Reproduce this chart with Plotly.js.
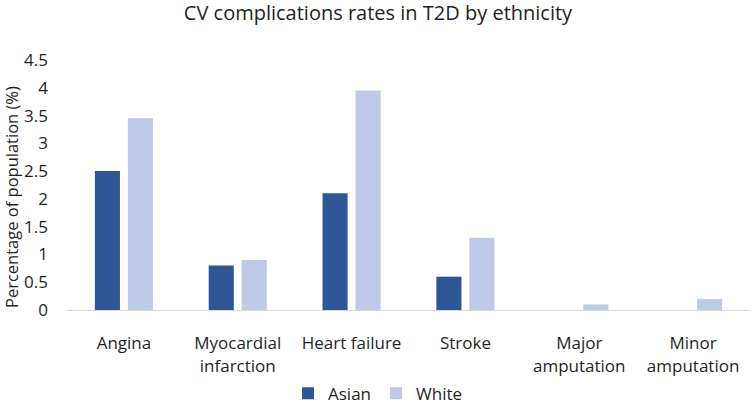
<!DOCTYPE html>
<html>
<head>
<meta charset="utf-8">
<script src="https://cdn.plot.ly/plotly-3.0.1.min.js"></script>
<style>
  html, body { margin: 0; padding: 0; background: #fff; }
  #chart { width: 756px; height: 406px; }
</style>
</head>
<body>
<div id="chart"></div>
<script>
const categories = [
  "Angina",
  "Myocardial<br>infarction",
  "Heart failure",
  "Stroke",
  "Major<br>amputation",
  "Minor<br>amputation"
];
const asianRates = [2.5, 0.8, 2.1, 0.6, 0, 0];
const whiteRates = [3.45, 0.9, 3.95, 1.3, 0.1, 0.2];
const yTicks = [0, 0.5, 1, 1.5, 2, 2.5, 3, 3.5, 4, 4.5];

const asianColor = "#2f5597";
const whiteColor = "#bdc9e6";
const textColor = "#1f1f1f";
const fontFamily = "Open Sans, sans-serif";

const traces = [
  {
    x: categories,
    y: asianRates,
    type: "bar",
    name: "Asian",
    marker: { color: asianColor }
  },
  {
    x: categories,
    y: whiteRates,
    type: "bar",
    name: "White",
    marker: { color: whiteColor }
  }
];

const layout = {
  width: 756,
  height: 406,
  margin: { t: 60, r: 6, b: 96, l: 67 },
  paper_bgcolor: "#fff",
  plot_bgcolor: "#fff",
  font: { family: fontFamily, color: textColor, size: 17 },
  title: {
    text: "CV complications rates in T2D by ethnicity",
    font: { family: fontFamily, size: 20, color: textColor },
    x: 0.5,
    xanchor: "center",
    y: 0.985,
    yanchor: "top"
  },
  barmode: "group",
  bargap: 0.42,
  bargroupgap: 0.24,
  xaxis: {
    automargin: false,
    showline: true,
    linecolor: "#d9d9d9",
    linewidth: 1,
    ticks: "",
    showgrid: false,
    tickfont: { size: 17 },
    ticklabelstandoff: 18
  },
  yaxis: {
    automargin: false,
    range: [0, 4.5],
    tickvals: yTicks,
    ticktext: yTicks.map(String),
    showgrid: false,
    zeroline: false,
    showline: false,
    ticks: "",
    tickfont: { size: 17 },
    ticklabelstandoff: 18
  },
  // y title placed by hand so it sits a bit low, like the source
  annotations: [
    {
      text: "Percentage of population (%)",
      textangle: -90,
      xref: "paper",
      yref: "paper",
      x: 0,
      xshift: -56,
      xanchor: "center",
      y: 0.452,
      yanchor: "middle",
      showarrow: false,
      font: { size: 16.5, color: textColor }
    }
  ],
  showlegend: true,
  legend: {
    orientation: "h",
    x: 0.5,
    xanchor: "center",
    xref: "container",
    yref: "container",
    y: 0.03,
    yanchor: "middle",
    font: { size: 17 },
    itemwidth: 30
  }
};

Plotly.newPlot("chart", traces, layout, { displayModeBar: false, staticPlot: true });
</script>
</body>
</html>
